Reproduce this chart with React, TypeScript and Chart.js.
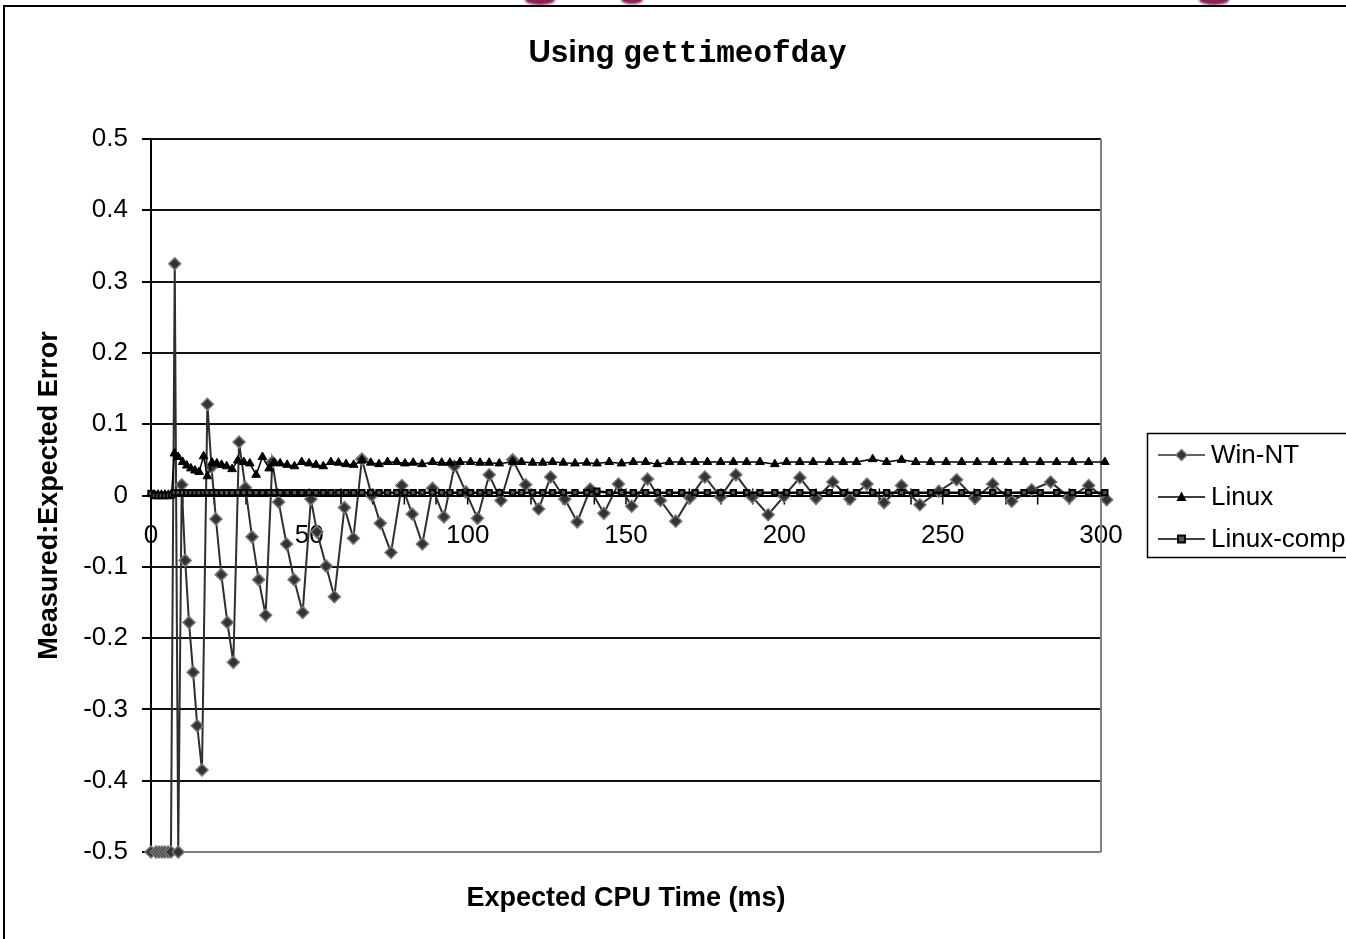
import React, { useEffect, useRef } from 'react';
import { Chart, registerables } from 'chart.js';

Chart.register(...registerables);

// ---------- data ----------
const SERIES_NAMES = ['Win-NT', 'Linux', 'Linux-comp'];

const WIN_NT_X = [
  0, 1.6, 2.5, 3.5, 4.4, 5.4, 6.3, 7.5, 8.6, 9.7,
  10.8, 12.0, 13.3, 14.6, 16.1, 17.8, 19.1, 20.5, 22.2, 24.1,
  26.0, 27.8, 29.8, 31.9, 34.0, 36.2, 38.3, 40.3, 42.8, 45.2,
  47.9, 50.5, 52.4, 55.3, 57.9, 61.1, 63.9, 66.6, 69.7, 72.4,
  75.8, 79.2, 82.5, 85.7, 88.9, 92.5, 95.8, 99.4, 103.1, 106.8,
  110.5, 114.2, 118.3, 122.4, 126.2, 130.7, 134.6, 138.7, 143.0, 147.6,
  151.8, 156.8, 160.9, 165.7, 170.2, 174.9, 179.9, 184.7, 189.9, 194.9,
  199.9, 204.9, 210.0, 215.3, 220.7, 226.1, 231.5, 237.0, 242.8, 248.8,
  254.4, 260.2, 265.8, 271.8, 278.1, 284.1, 290.0, 296.1, 301.8,
];
const WIN_NT_Y = [
  -0.5, -0.5, -0.5, -0.5, -0.5, -0.5, -0.5, 0.325, -0.5, 0.015,
  -0.091, -0.178, -0.248, -0.323, -0.385, 0.128, 0.040, -0.033, -0.111, -0.178,
  -0.234, 0.075, 0.011, -0.058, -0.118, -0.168, 0.047, -0.009, -0.068, -0.118,
  -0.164, -0.005, -0.051, -0.099, -0.142, -0.017, -0.060, 0.051, 0.000, -0.039,
  -0.080, 0.014, -0.026, -0.068, 0.010, -0.030, 0.041, 0.005, -0.032, 0.029,
  -0.007, 0.050, 0.015, -0.019, 0.026, -0.005, -0.037, 0.009, -0.025, 0.016,
  -0.015, 0.023, -0.007, -0.036, -0.003, 0.026, -0.002, 0.029, -0.002, -0.027,
  -0.001, 0.025, -0.004, 0.019, -0.005, 0.016, -0.010, 0.014, -0.013, 0.006,
  0.022, -0.004, 0.016, -0.008, 0.008, 0.019, -0.003, 0.014, -0.006,
];

const LINUX_X = [
  0, 1.1, 2.2, 3.3, 4.4, 5.5, 6.5, 7.4, 8.6, 10.0,
  11.3, 12.6, 13.9, 15.2, 16.6, 17.8, 19.3, 20.8, 22.3, 23.9,
  25.6, 27.4, 29.3, 31.2, 33.2, 35.2, 37.3, 38.9, 40.8, 43.0,
  45.3, 47.6, 49.9, 52.1, 54.4, 56.8, 59.2, 61.6, 64.0, 66.6,
  69.4, 72.0, 74.7, 77.6, 80.2, 82.8, 85.6, 88.9, 91.8, 94.4,
  97.6, 100.9, 103.9, 106.8, 110.0, 114.2, 117.0, 120.5, 123.7, 126.8,
  130.2, 133.9, 137.6, 140.8, 144.7, 148.6, 152.3, 156.2, 159.9, 163.7,
  167.6, 171.8, 175.7, 179.9, 183.9, 188.1, 192.3, 197.0, 200.7, 204.9,
  209.1, 214.2, 218.6, 222.8, 227.9, 232.3, 237.0, 241.5, 246.2, 251.1,
  256.0, 260.9, 265.8, 270.7, 275.7, 280.8, 286.0, 291.0, 296.1, 301.2,
];
const LINUX_Y = [
  0.002, 0.001, 0.001, 0.001, 0.001, 0.001, 0.002, 0.059, 0.054, 0.047,
  0.042, 0.038, 0.035, 0.033, 0.055, 0.027, 0.046, 0.045, 0.043, 0.041,
  0.037, 0.049, 0.047, 0.045, 0.029, 0.054, 0.038, 0.046, 0.045, 0.043,
  0.041, 0.047, 0.045, 0.043, 0.041, 0.047, 0.046, 0.044, 0.043, 0.049,
  0.046, 0.044, 0.047, 0.047, 0.045, 0.046, 0.044, 0.047, 0.046, 0.046,
  0.047, 0.047, 0.046, 0.046, 0.045, 0.047, 0.047, 0.046, 0.046, 0.047,
  0.046, 0.045, 0.046, 0.045, 0.047, 0.045, 0.047, 0.047, 0.044, 0.047,
  0.047, 0.047, 0.047, 0.047, 0.047, 0.047, 0.047, 0.044, 0.047, 0.047,
  0.047, 0.047, 0.047, 0.047, 0.051, 0.047, 0.050, 0.047, 0.047, 0.047,
  0.047, 0.047, 0.047, 0.047, 0.047, 0.047, 0.047, 0.047, 0.047, 0.047,
];
const LINUX_COMP_Y = [
  0.003, 0.000, 0.000, 0.000, 0.000, 0.000, 0.001, 0.004, 0.004, 0.004,
  0.004, 0.004, 0.004, 0.004, 0.004, 0.004, 0.004, 0.004, 0.004, 0.004,
  0.004, 0.004, 0.004, 0.004, 0.004, 0.004, 0.004, 0.004, 0.004, 0.004,
  0.004, 0.004, 0.004, 0.004, 0.004, 0.004, 0.004, 0.004, 0.004, 0.004,
  0.004, 0.004, 0.004, 0.004, 0.004, 0.004, 0.004, 0.004, 0.004, 0.004,
  0.004, 0.004, 0.004, 0.004, 0.004, 0.004, 0.004, 0.004, 0.004, 0.004,
  0.004, 0.004, 0.004, 0.006, 0.004, 0.004, 0.004, 0.004, 0.004, 0.004,
  0.004, 0.004, 0.004, 0.004, 0.004, 0.004, 0.004, 0.004, 0.004, 0.004,
  0.004, 0.004, 0.004, 0.004, 0.004, 0.004, 0.004, 0.004, 0.004, 0.004,
  0.004, 0.004, 0.004, 0.004, 0.004, 0.004, 0.004, 0.004, 0.004, 0.004,
];

const X_LABEL_VALUES = [0, 50, 100, 150, 200, 250, 300];
const TITLE_PLAIN = 'Using';
const TITLE_CODE = 'gettimeofday';
const X_TITLE = 'Expected CPU Time (ms)';
const Y_TITLE = 'Measured:Expected Error';

const SANS = '"Liberation Sans", Arial, sans-serif';
const MONO = '"Liberation Mono", "Courier New", monospace';

const COLORS = {
  winLine: '#2e2e2e',
  winFill: '#333333',
  winBorder: '#777777',
  linux: '#000000',
  comp: '#000000',
  compFill: '#555555',
  fragment: '#8a2150',
};

function toPoints(xs: number[], ys: number[]) {
  return xs.map((x, i) => ({ x, y: ys[i] }));
}

function drawMarker(ctx: CanvasRenderingContext2D, kind: number, x: number, y: number) {
  ctx.save();
  if (kind === 0) {
    const r = 5.5;
    ctx.beginPath();
    ctx.moveTo(x, y - r);
    ctx.lineTo(x + r, y);
    ctx.lineTo(x, y + r);
    ctx.lineTo(x - r, y);
    ctx.closePath();
    ctx.fillStyle = COLORS.winFill;
    ctx.fill();
    ctx.strokeStyle = COLORS.winBorder;
    ctx.lineWidth = 1.5;
    ctx.stroke();
  } else if (kind === 1) {
    ctx.beginPath();
    ctx.moveTo(x, y - 5.5);
    ctx.lineTo(x + 5, y + 4);
    ctx.lineTo(x - 5, y + 4);
    ctx.closePath();
    ctx.fillStyle = '#000';
    ctx.fill();
  } else {
    ctx.fillStyle = COLORS.compFill;
    ctx.fillRect(x - 3.5, y - 3.5, 7, 7);
    ctx.strokeStyle = '#000';
    ctx.lineWidth = 2;
    ctx.strokeRect(x - 3.5, y - 3.5, 7, 7);
  }
  ctx.restore();
}

const decorPlugin = {
  id: 'decor',
  beforeDraw(chart: any) {
    const ctx = chart.ctx as CanvasRenderingContext2D;
    ctx.save();
    ctx.fillStyle = '#ffffff';
    ctx.fillRect(0, 0, chart.width, chart.height);
    // fragments of the page above (cut off)
    ctx.fillStyle = COLORS.fragment;
    ctx.filter = 'blur(1px)';
    [
      [540, 0, 15, 5],
      [632, 0, 11, 4],
      [1214, 0, 15, 5],
    ].forEach(([cx, cy, rx, ry]) => {
      ctx.beginPath();
      ctx.ellipse(cx, cy, rx, ry, 0, 0, Math.PI * 2);
      ctx.fill();
    });
    ctx.filter = 'none';
    ctx.fillStyle = '#000';
    ctx.fillRect(3, 5, chart.width - 3, 2);
    ctx.fillRect(3, 5, 2, chart.height - 5);
    ctx.restore();
  },
  beforeDatasetsDraw(chart: any) {
    const ctx = chart.ctx as CanvasRenderingContext2D;
    const { chartArea, scales } = chart;
    const xs = scales.x;
    const ys = scales.y;
    const y0 = ys.getPixelForValue(0);
    ctx.save();
    ctx.strokeStyle = '#000';
    ctx.lineWidth = 1.5;
    xs.ticks.forEach((t: any) => {
      const px = xs.getPixelForValue(t.value);
      ctx.beginPath();
      ctx.moveTo(px, y0 - 7);
      ctx.lineTo(px, y0 + 9);
      ctx.stroke();
    });
    ctx.strokeStyle = '#808080';
    ctx.lineWidth = 2;
    ctx.beginPath();
    ctx.moveTo(chartArea.right, chartArea.top);
    ctx.lineTo(chartArea.right, chartArea.bottom);
    ctx.stroke();
    ctx.restore();
  },
  afterDraw(chart: any) {
    const ctx = chart.ctx as CanvasRenderingContext2D;
    const { chartArea } = chart;
    ctx.save();
    ctx.fillStyle = '#000';
    // title
    ctx.textBaseline = 'alphabetic';
    ctx.textAlign = 'left';
    ctx.font = `bold 31px ${SANS}`;
    const w1 = ctx.measureText(TITLE_PLAIN + ' ').width;
    ctx.font = `bold 31px ${MONO}`;
    const w2 = ctx.measureText(TITLE_CODE).width;
    const startX = 687.5 - (w1 + w2) / 2;
    ctx.font = `bold 31px ${SANS}`;
    ctx.fillText(TITLE_PLAIN, startX, 62);
    ctx.font = `bold 31px ${MONO}`;
    ctx.fillText(TITLE_CODE, startX + w1, 62);

    // x title
    ctx.font = `bold 27px ${SANS}`;
    ctx.textAlign = 'center';
    ctx.textBaseline = 'middle';
    ctx.fillText(X_TITLE, (chartArea.left + chartArea.right) / 2, 899);

    // y title
    ctx.save();
    ctx.translate(50, (chartArea.top + chartArea.bottom) / 2);
    ctx.rotate(-Math.PI / 2);
    ctx.fillText(Y_TITLE, 0, 0);
    ctx.restore();

    // legend
    ctx.strokeStyle = '#000';
    ctx.lineWidth = 1.5;
    ctx.strokeRect(1147.5, 433.5, 320, 124);
    const rows = [455, 497, 539];
    const lineCols = [COLORS.winLine, COLORS.linux, COLORS.comp];
    SERIES_NAMES.forEach((name, i) => {
      const y = rows[i];
      ctx.strokeStyle = lineCols[i];
      ctx.lineWidth = 1.5;
      ctx.beginPath();
      ctx.moveTo(1158, y);
      ctx.lineTo(1205, y);
      ctx.stroke();
      drawMarker(ctx, i, 1181.5, y);
      ctx.fillStyle = '#000';
      ctx.font = `26px ${SANS}`;
      ctx.textAlign = 'left';
      ctx.textBaseline = 'middle';
      ctx.fillText(name, 1211, y + 1);
    });
    ctx.restore();
  },
};

export default function App() {
  const canvasRef = useRef<HTMLCanvasElement | null>(null);

  useEffect(() => {
    const canvas = canvasRef.current;
    if (!canvas) return;
    const chart = new Chart(canvas, {
      type: 'line',
      data: {
        datasets: [
          {
            label: SERIES_NAMES[0],
            data: toPoints(WIN_NT_X, WIN_NT_Y),
            borderColor: COLORS.winLine,
            borderWidth: 2,
            pointStyle: 'rectRot',
            pointRadius: 6,
            pointBackgroundColor: COLORS.winFill,
            pointBorderColor: COLORS.winBorder,
            pointBorderWidth: 1.5,
            tension: 0,
            clip: false as any,
            order: 3,
          },
          {
            label: SERIES_NAMES[1],
            data: toPoints(LINUX_X, LINUX_Y),
            borderColor: COLORS.linux,
            borderWidth: 1.5,
            pointStyle: 'triangle',
            pointRadius: 5,
            pointBackgroundColor: '#000',
            pointBorderColor: '#000',
            pointBorderWidth: 1,
            tension: 0,
            clip: false as any,
            order: 2,
          },
          {
            label: SERIES_NAMES[2],
            data: toPoints(LINUX_X, LINUX_COMP_Y),
            borderColor: COLORS.comp,
            borderWidth: 2.5,
            pointStyle: 'rect',
            pointRadius: 3.8,
            pointBackgroundColor: COLORS.compFill,
            pointBorderColor: '#000',
            pointBorderWidth: 2,
            tension: 0,
            clip: false as any,
            order: 1,
          },
        ],
      },
      options: {
        responsive: false,
        animation: false,
        devicePixelRatio: 1,
        events: [],
        layout: { padding: { left: 0, top: 139, right: 245, bottom: 87 } },
        plugins: {
          legend: { display: false },
          title: { display: false },
          tooltip: { enabled: false },
        },
        scales: {
          x: {
            type: 'linear',
            position: { y: 0 } as any,
            min: 0,
            max: 300,
            grid: { display: true, drawOnChartArea: false, drawTicks: false },
            border: { display: true, color: '#000', width: 2 },
            ticks: {
              stepSize: 10,
              autoSkip: false,
              maxRotation: 0,
              padding: 25,
              color: '#000',
              font: { family: SANS, size: 26 },
              callback: (v: any) => {
                const n = Number(v);
                return X_LABEL_VALUES.some((t) => Math.abs(t - n) < 1e-6) ? String(Math.round(n)) : '';
              },
            },
          },
          y: {
            type: 'linear',
            min: -0.5,
            max: 0.5,
            afterFit: (scale: any) => {
              scale.width = 151;
            },
            grid: {
              color: (c: any) => (Math.abs(c.tick.value + 0.5) < 1e-6 ? '#808080' : '#111111'),
              tickColor: '#000',
              lineWidth: 2,
              tickLength: 9,
              drawTicks: true,
            },
            border: { display: true, color: '#000', width: 2 },
            ticks: {
              stepSize: 0.1,
              padding: 14,
              color: '#000',
              font: { family: SANS, size: 26 },
              callback: (v: any) => {
                const n = Number(v);
                if (Math.abs(n) < 1e-9) return '0';
                return n.toFixed(1);
              },
            },
          },
        },
      },
      plugins: [decorPlugin],
    } as any);
    return () => chart.destroy();
  }, []);

  return (
    <div
      style={{
        position: 'fixed',
        left: 0,
        top: 0,
        width: 1346,
        height: 939,
        overflow: 'hidden',
        background: '#fff',
      }}
    >
      <canvas ref={canvasRef} width={1346} height={939} style={{ width: 1346, height: 939, display: 'block' }} />
    </div>
  );
}
